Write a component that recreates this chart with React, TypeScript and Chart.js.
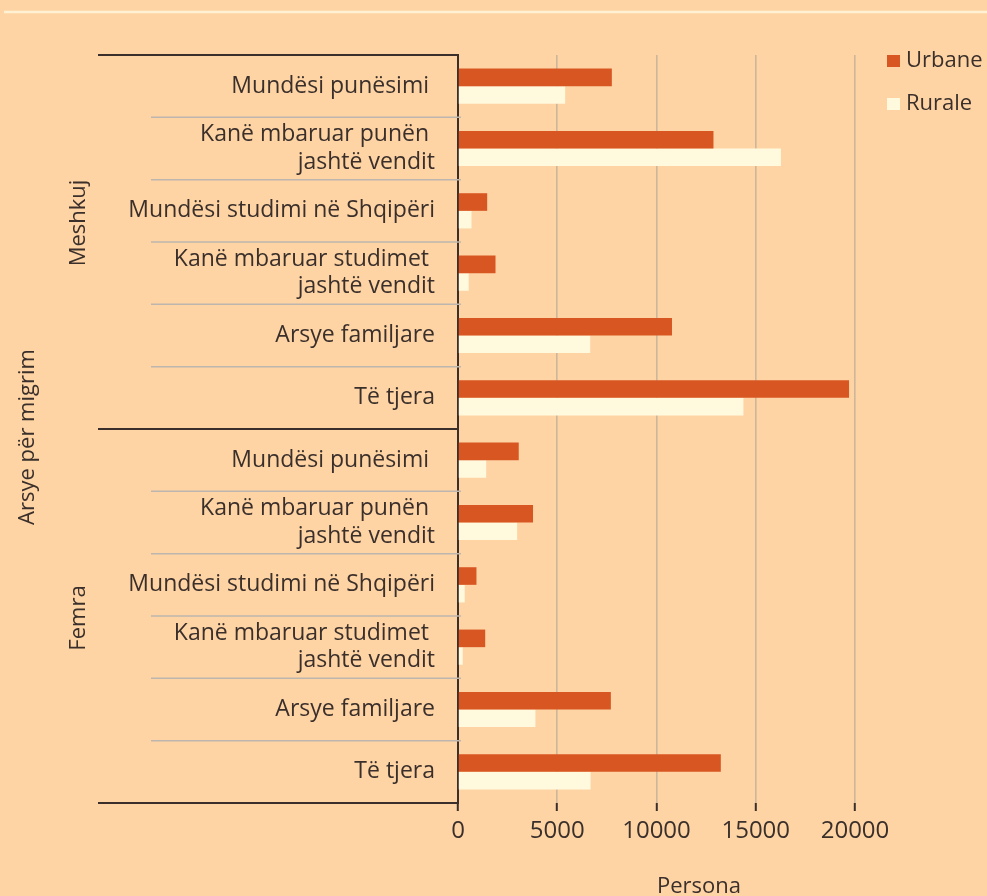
import React, { useEffect, useRef } from "react";
import { Chart, registerables } from "chart.js";

Chart.register(...registerables);

// ---------- data ----------
const groupNames = ["Meshkuj", "Femra"];
const reasonLabels: string[][] = [
  ["Mundësi punësimi "],
  ["Kanë mbaruar punën ", "jashtë vendit"],
  ["Mundësi studimi në Shqipëri"],
  ["Kanë mbaruar studimet ", "jashtë vendit"],
  ["Arsye familjare"],
  ["Të tjera"],
];
const categoryLabels: string[][] = [...reasonLabels, ...reasonLabels];
const seriesNames = ["Urbane", "Rurale"];
const urbaneValues = [7750, 12870, 1470, 1890, 10780, 19700, 3060, 3780, 930, 1370, 7700, 13240];
const ruraleValues = [5400, 16270, 680, 540, 6660, 14380, 1420, 2980, 340, 240, 3900, 6680];
const xTickValues = [0, 5000, 10000, 15000, 20000];
const xAxisTitle = "Persona";
const yAxisTitle = "Arsye për migrim";

// ---------- styles ----------
const BG = "#FED4A4";
const URBANE = "#D85622";
const RURALE = "#FFF9DE";
const TEXT = "#3a2f2b";
const AXIS = "#3a2f2b";
const GRID = "#CDB69B";
const SEP = "#BDB6AE";
const FONT = "'Open Sans', 'Noto Sans', sans-serif";
const LABEL_SIZE = 23;

const decorPlugin = {
  id: "decor",
  beforeDraw(chart: any) {
    const { ctx, width, height } = chart;
    ctx.save();
    ctx.fillStyle = BG;
    ctx.fillRect(0, 0, width, height);
    ctx.strokeStyle = "#FFF2D4";
    ctx.lineWidth = 2.5;
    ctx.beginPath();
    ctx.moveTo(4, 12);
    ctx.lineTo(width, 12);
    ctx.stroke();
    ctx.restore();
  },
  afterDraw(chart: any) {
    const { ctx, chartArea: ca } = chart;
    const ys = chart.scales.y;
    const n = categoryLabels.length;
    const per = reasonLabels.length;
    const step = ys.getPixelForValue(1) - ys.getPixelForValue(0);
    ctx.save();

    // thin separators between reasons
    ctx.strokeStyle = SEP;
    ctx.lineWidth = 1.5;
    for (let i = 0; i < n - 1; i++) {
      if ((i + 1) % per === 0) continue;
      const yb = ys.getPixelForValue(i) + step / 2;
      ctx.beginPath();
      ctx.moveTo(151, yb);
      ctx.lineTo(ca.left + 3, yb);
      ctx.stroke();
    }

    // group lines
    ctx.strokeStyle = AXIS;
    ctx.lineWidth = 2;
    for (let g = 0; g <= groupNames.length; g++) {
      const yb = ys.getPixelForValue(g * per) - step / 2;
      ctx.beginPath();
      ctx.moveTo(98, yb);
      ctx.lineTo(ca.left, yb);
      ctx.stroke();
    }

    // group labels (rotated)
    ctx.fillStyle = TEXT;
    ctx.font = `22px ${FONT}`;
    ctx.textAlign = "center";
    ctx.textBaseline = "alphabetic";
    const shifts = [-19, 2];
    groupNames.forEach((name, g) => {
      const top = ys.getPixelForValue(g * per) - step / 2;
      const bot = ys.getPixelForValue((g + 1) * per - 1) + step / 2;
      const cy = (top + bot) / 2 + shifts[g];
      ctx.save();
      ctx.translate(85, cy);
      ctx.rotate(-Math.PI / 2);
      ctx.fillText(name, 0, 0);
      ctx.restore();
    });

    // y axis title
    ctx.save();
    ctx.translate(34, (ca.top + ca.bottom) / 2 + 8);
    ctx.rotate(-Math.PI / 2);
    ctx.fillText(yAxisTitle, 0, 0);
    ctx.restore();

    // x axis title
    ctx.textAlign = "center";
    ctx.fillText(xAxisTitle, 699, 893);

    // legend
    ctx.textAlign = "left";
    chart.data.datasets.forEach((ds: any, i: number) => {
      const base = 67 + i * 43;
      ctx.fillStyle = ds.backgroundColor;
      ctx.fillRect(887, base - 12, 13, 12);
      ctx.fillStyle = TEXT;
      ctx.fillText(ds.label, 906, base);
    });

    ctx.restore();
  },
};

export default function App() {
  const ref = useRef<HTMLCanvasElement | null>(null);

  useEffect(() => {
    if (!ref.current) return;
    const chart = new Chart(ref.current, {
      type: "bar",
      data: {
        labels: categoryLabels as any,
        datasets: [
          { label: seriesNames[0], data: urbaneValues, backgroundColor: URBANE, categoryPercentage: 0.565, barPercentage: 1 },
          { label: seriesNames[1], data: ruraleValues, backgroundColor: RURALE, categoryPercentage: 0.565, barPercentage: 1 },
        ],
      },
      options: {
        indexAxis: "y",
        responsive: false,
        animation: false,
        devicePixelRatio: 1,
        layout: { padding: { top: 55, right: 132, left: 0, bottom: 0 } },
        plugins: { legend: { display: false }, tooltip: { enabled: false } },
        scales: {
          x: {
            type: "linear",
            min: 0,
            max: 20000,
            afterBuildTicks: (s: any) => {
              s.ticks = xTickValues.map((v) => ({ value: v }));
            },
            afterFit: (s: any) => {
              s.height = 93;
            },
            grid: {
              color: GRID,
              lineWidth: 1.6,
              tickColor: AXIS,
              tickLength: 8,
              tickWidth: 2,
            },
            border: { display: false },
            ticks: {
              color: TEXT,
              font: { family: FONT, size: 24 },
              padding: 6,
              maxRotation: 0,
              callback: (v: any) => String(v),
            },
          },
          y: {
            type: "category",
            afterFit: (s: any) => {
              s.width = 458;
            },
            grid: { display: false, drawTicks: false },
            border: { display: true, color: AXIS, width: 2 },
            ticks: {
              color: TEXT,
              font: { family: FONT, size: LABEL_SIZE, lineHeight: 1.18 },
              padding: 23,
              autoSkip: false,
            },
          },
        },
      },
      plugins: [decorPlugin],
    });
    return () => chart.destroy();
  }, []);

  return (
    <div style={{ position: "absolute", left: 0, top: 0, width: 987, height: 896 }}>
      <canvas ref={ref} width={987} height={896} style={{ display: "block" }} />
    </div>
  );
}
